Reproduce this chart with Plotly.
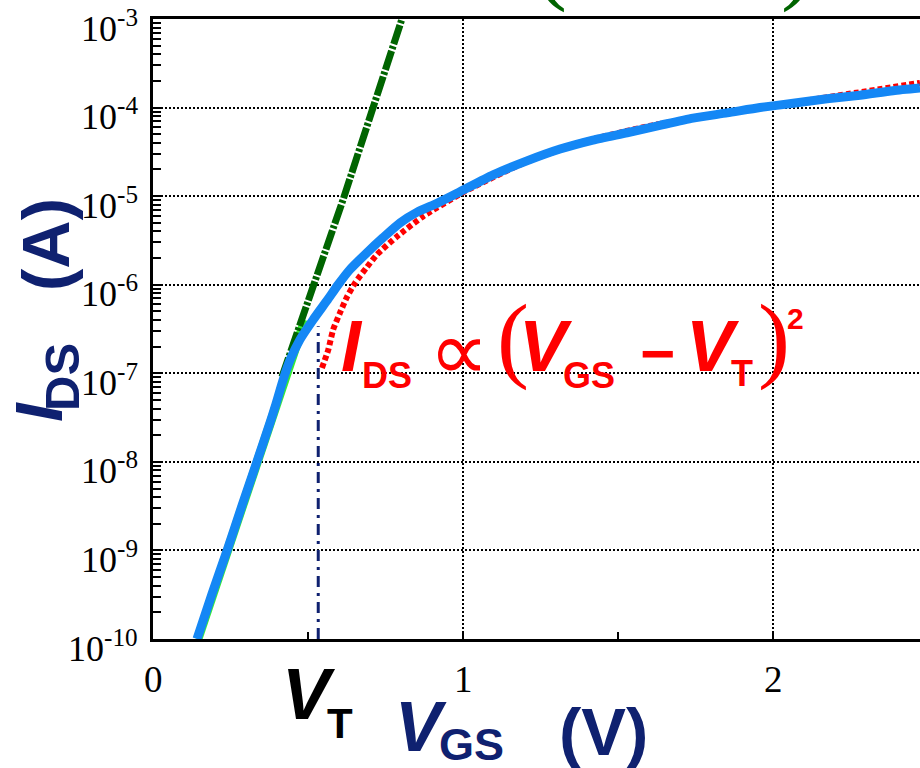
import math
import plotly.graph_objects as go

# ---------------- data ----------------
vgs_meas = [0.142, 0.19, 0.239, 0.287, 0.335, 0.378, 0.394, 0.42, 0.442, 0.474,
            0.516, 0.561, 0.597, 0.635, 0.69, 0.742, 0.797, 0.852, 0.916, 0.99,
            1.097, 1.206, 1.313, 1.419, 1.529, 1.635, 1.742, 1.852, 1.958, 2.065,
            2.174, 2.281, 2.387, 2.474]
ids_meas = [1.0e-10, 3.2e-10, 1.0e-9, 3.2e-9, 1.0e-8, 2.8e-8, 4.2e-8, 8.5e-8, 1.41e-7, 2.4e-7,
            4.0e-7, 6.6e-7, 1.0e-6, 1.48e-6, 2.3e-6, 3.4e-6, 5.0e-6, 6.6e-6, 8.3e-6, 1.12e-5,
            1.74e-5, 2.5e-5, 3.4e-5, 4.3e-5, 5.2e-5, 6.3e-5, 7.6e-5, 8.7e-5, 1.0e-4, 1.12e-4,
            1.26e-4, 1.38e-4, 1.55e-4, 1.66e-4]

vgs_square = [0.545, 0.565, 0.581, 0.603, 0.625, 0.652, 0.69, 0.723, 0.787, 0.871,
              1.0, 1.2, 1.4, 1.6, 1.8, 2.0, 2.2, 2.474]
ids_square = [1.15e-7, 1.82e-7, 3.1e-7, 4.8e-7, 7.2e-7, 1.05e-6, 1.58e-6, 2.2e-6, 3.5e-6, 5.9e-6,
              1.1e-5, 2.4e-5, 4.2e-5, 6.2e-5, 8.1e-5, 1.05e-4, 1.35e-4, 1.9e-4]

vgs_sub_fit = [0.416, 0.613, 0.803]
ids_sub_fit = [9.1e-8, 9.1e-6, 1.0e-3]

vgs_sub_low = [0.145, 0.49]
ids_sub_low = [1.0e-10, 4.0e-7]

vgs_vt = [0.533, 0.533]
ids_vt = [1.0e-10, 3.4e-7]

y_tick_vals = [1e-10, 1e-9, 1e-8, 1e-7, 1e-6, 1e-5, 1e-4, 1e-3]
y_tick_text = ["10<sup>-10</sup>", "10<sup>-9</sup>", "10<sup>-8</sup>", "10<sup>-7</sup>",
               "10<sup>-6</sup>", "10<sup>-5</sup>", "10<sup>-4</sup>", "10<sup>-3</sup>"]
x_tick_vals = [0, 1, 2]
x_tick_text = ["0", "1", "2"]

# ---------------- styling ----------------
NAVY = "#0f2170"
RED = "#ff0000"
DKGREEN = "#006400"
LIME = "#33ee33"
BLUE = "#1487f5"
SANS = "Liberation Sans, Arial, sans-serif"
SERIF = "Liberation Serif, Times New Roman, serif"
DEJAVU = "DejaVu Sans, sans-serif"

L, R, T, B = 153, 920, 19, 639


def px(x):
    return (x - L) / (R - L)


def py(y):
    return (B - y) / (B - T)


fig = go.Figure()
fig.add_trace(go.Scatter(x=vgs_sub_low, y=ids_sub_low, mode="lines",
                         line=dict(color=LIME, width=9), showlegend=False))
fig.add_trace(go.Scatter(x=vgs_sub_fit, y=ids_sub_fit, mode="lines",
                         line=dict(color=DKGREEN, width=7, dash="20px,2px,3px,2px"), showlegend=False))
fig.add_trace(go.Scatter(x=vgs_vt, y=ids_vt, mode="lines",
                         line=dict(color=NAVY, width=3, dash="11px,6px,3px,6px"), showlegend=False))
fig.add_trace(go.Scatter(x=vgs_square, y=ids_square, mode="lines",
                         line=dict(color=RED, width=6, dash="5px,3px", shape="spline", smoothing=0.6),
                         showlegend=False))
fig.add_trace(go.Scatter(x=vgs_meas, y=ids_meas, mode="lines",
                         line=dict(color=BLUE, width=9, shape="spline", smoothing=0.6), showlegend=False))

annotations = []


def txt(s, cx, cy, size, color, bold=True, italic=False, angle=0, family=SANS):
    if italic:
        s = "<i>" + s + "</i>"
    if bold:
        s = "<b>" + s + "</b>"
    annotations.append(dict(text=s, x=px(cx), y=py(cy), xref="paper", yref="paper",
                            xanchor="center", yanchor="middle", showarrow=False,
                            textangle=angle, font=dict(family=family, size=size, color=color)))


# tick labels (serif, like the reference)
for v, t in zip(y_tick_vals, y_tick_text):
    annotations.append(dict(text=t, x=px(140), y=math.log10(v), xref="paper", yref="y",
                            xanchor="right", yanchor="middle", yshift=-7, showarrow=False,
                            font=dict(family=SERIF, size=36, color="black")))
for v, t in zip(x_tick_vals, x_tick_text):
    annotations.append(dict(text=t, x=v, y=py(679), xref="x", yref="paper",
                            xanchor="center", yanchor="middle", showarrow=False,
                            font=dict(family=SERIF, size=37, color="black")))

# red formula  I_DS ∝ (V_GS − V_T)^2
txt("I", 352, 346, 72, RED, italic=True)
txt("DS", 387, 375, 36, RED)
txt("∝", 459, 351, 84, RED, bold=False, family=DEJAVU)
txt("(", 513, 337, 96, RED, bold=False, family=SERIF)
txt("V", 546, 346, 72, RED, italic=True)
txt("GS", 589, 375, 36, RED)
txt("−", 657, 353, 60, RED)
txt("V", 713, 346, 72, RED, italic=True)
txt("T", 742, 374, 36, RED)
txt(")", 774, 337, 96, RED, bold=False, family=SERIF)
txt("2", 795, 318, 30, RED)

# green text at the very top (mostly cut off)
txt("(", 551, -40, 96, DKGREEN, bold=False, family=SERIF)
txt(")", 797, -40, 96, DKGREEN, bold=False, family=SERIF)

# y-axis title
txt("I", 39, 412, 67, NAVY, italic=True, angle=-90)
txt("DS", 62, 377, 49, NAVY, angle=-90)
txt("(A)", 45, 245, 67, NAVY, angle=-90)

# x-axis title
txt("V", 421, 727, 70, NAVY, italic=True)
txt("GS", 471, 744, 45, NAVY)
txt("(V)", 603, 731, 67, NAVY)

# V_T label
txt("V", 309, 694, 72, "black", italic=True)
txt("T", 340, 723, 42, "black")

fig.update_layout(
    width=920, height=768,
    margin=dict(l=L, r=920 - R, t=T, b=768 - B, pad=0),
    plot_bgcolor="white", paper_bgcolor="white",
    showlegend=False,
    annotations=annotations,
)

fig.update_xaxes(
    range=[0, 2.474], tickvals=x_tick_vals, showticklabels=False,
    ticks="inside", ticklen=7, tickwidth=2, tickcolor="black",
    showline=True, linecolor="black", linewidth=2.5, mirror=True,
    showgrid=True, gridcolor="black", gridwidth=2, griddash="2px,2px",
    minor=dict(dtick=0.5, ticks="inside", ticklen=7, tickwidth=2, tickcolor="black", showgrid=False),
    zeroline=False,
)
fig.update_yaxes(
    type="log", range=[-10, -3], tickvals=y_tick_vals, showticklabels=False,
    ticks="inside", ticklen=9, tickwidth=2, tickcolor="black",
    showline=True, linecolor="black", linewidth=2.5, mirror=False,
    showgrid=True, gridcolor="black", gridwidth=2, griddash="2px,2px",
    minor=dict(dtick="D1", ticks="inside", ticklen=8, tickwidth=2, tickcolor="black", showgrid=False),
    zeroline=False,
)

fig.write_html("out.html")
